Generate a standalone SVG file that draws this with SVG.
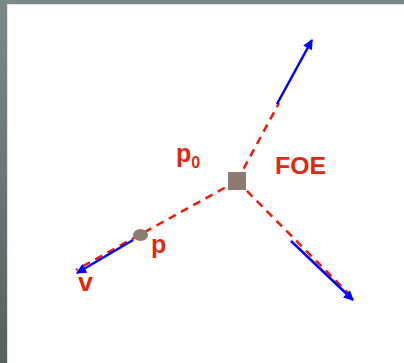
<svg xmlns="http://www.w3.org/2000/svg" width="404" height="363" viewBox="0 0 404 363">
  <defs>
    <linearGradient id="frame" x1="0" y1="0" x2="0" y2="1">
      <stop offset="0" stop-color="#7b8a88"/>
      <stop offset="1" stop-color="#57615e"/>
    </linearGradient>
    <marker id="ah" viewBox="0 0 10 10" refX="9" refY="5" markerWidth="4.4" markerHeight="4" orient="auto" markerUnits="strokeWidth">
      <path d="M0,0 L10,5 L0,10 z" fill="#0000ff"/>
    </marker>
    <style>
      .dash { stroke: #ee1a0c; stroke-width: 2.5; stroke-dasharray: 8 6; fill: none; }
      .vec { stroke: #0000ff; stroke-width: 2.5; fill: none; marker-end: url(#ah); }
      .lbl { font-family: "Liberation Sans", Arial, sans-serif; font-weight: bold; fill: #dd2a10; }
      .dot { fill: #8c7b70; }
    </style>
  </defs>
  <rect x="0" y="0" width="404" height="363" fill="url(#frame)"/>
  <rect x="7" y="4" width="397" height="359" fill="#ffffff"/>
  <line x1="7.5" y1="4" x2="7.5" y2="363" stroke="#dfe5e4" stroke-width="1"/>
  <line x1="7" y1="4.5" x2="404" y2="4.5" stroke="#dfe5e4" stroke-width="1"/>

  <g id="connectors">
    <line class="dash" x1="237" y1="181" x2="279" y2="103"/>
    <line class="dash" x1="237" y1="181" x2="351" y2="296"/>
    <line class="dash" x1="237" y1="181" x2="76" y2="270"/>
    <line class="vec" x1="277" y1="104" x2="312" y2="40"/>
    <line class="vec" x1="291" y1="241" x2="353" y2="300"/>
    <line class="vec" x1="133" y1="240" x2="77" y2="273"/>
  </g>

  <g id="foe">
    <rect class="dot" x="228" y="172" width="18" height="18"/>
    <text class="lbl" x="275" y="174" font-size="24" textLength="51" lengthAdjust="spacingAndGlyphs">FOE</text>
  </g>
  <g id="p0">
    <text class="lbl" x="176" y="162" font-size="25">p<tspan font-size="16" dy="6">0</tspan></text>
  </g>
  <g id="p">
    <ellipse class="dot" cx="140.5" cy="235" rx="7.5" ry="6"/>
    <text class="lbl" x="151" y="253" font-size="25">p</text>
  </g>
  <g id="v">
    <text class="lbl" x="78" y="291" font-size="25" textLength="15" lengthAdjust="spacingAndGlyphs">v</text>
  </g>
</svg>
